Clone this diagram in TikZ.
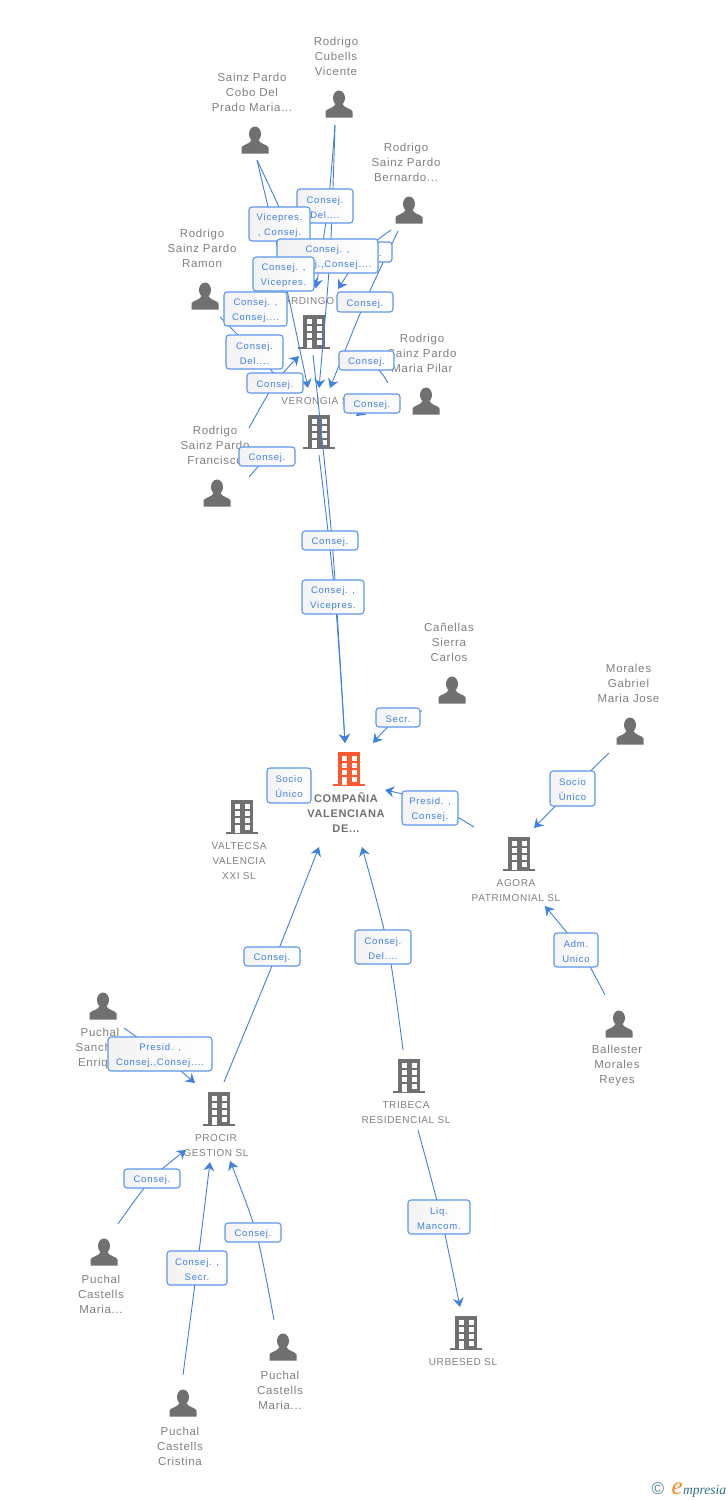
\documentclass[tikz,border=0pt]{standalone}
\usepackage{fontspec}
\setmainfont[LetterSpace=6]{Liberation Sans}
\newfontfamily\lblfont[LetterSpace=8]{Liberation Sans}
\newfontfamily\logofont{Liberation Serif}
\usetikzlibrary{arrows.meta,backgrounds}
\definecolor{icongray}{HTML}{707070}
\definecolor{txtgray}{HTML}{808080}
\definecolor{linkblue}{HTML}{3F80E0}
\definecolor{boxblue}{HTML}{5C97E8}
\definecolor{mainorange}{HTML}{FF5A2C}
\definecolor{logoblue}{HTML}{4A8098}
\definecolor{logoteal}{HTML}{2F6F80}
\definecolor{logoorange}{HTML}{F58A1F}
\pgfdeclarelayer{txt}
\pgfdeclarelayer{conn}
\pgfsetlayers{txt,conn,main}
\tikzset{
  personicon/.pic={
    \fill[icongray] (0,-6) ellipse (6 and 7.5);
    \fill[icongray] (-13.5,13.5) -- (-13.5,7.5) .. controls (-13,4.5) and (-5,4.5) .. (-3.5,0) -- (3.5,0) .. controls (5,4.5) and (13,4.5) .. (13.5,7.5) -- (13.5,13.5) -- cycle;
  },
  buildingicon/.pic={
    \fill[pic actions] (-11,-17) rectangle (11,15);
    \fill[pic actions] (-16,15) rectangle (16,17);
    \foreach \r in {-13,-6,1}{
      \fill[white] (-7.5,\r) rectangle (-2.5,{\r+4.5});
      \fill[white] (2.5,\r) rectangle (7.5,{\r+4.5});
    }
    \fill[white] (-7.5,8) rectangle (-2.5,16);
    \fill[white] (2.5,8) rectangle (7.5,12.5);
  },
  ent/.style={text=txtgray,align=center,inner sep=0pt,font=\fontsize{11.5}{15}\selectfont},
  entco/.style={ent,font=\fontsize{10}{15}\selectfont},
  entmain/.style={ent,text=icongray,font=\fontsize{11}{15}\selectfont\bfseries},
  conn/.style={draw=linkblue,line width=0.9pt},
  tipped/.style={conn,-{Stealth[length=9pt,width=11pt,inset=3pt]}},
  lblbox/.style={draw=boxblue,line width=1.1pt,rounded corners=3pt,left color=black!5,right color=white,
    text=linkblue,align=center,inner sep=0pt,font=\fontsize{9.5}{15}\selectfont\lblfont}
}
\newcommand{\lbl}[6]{%
  \pgfmathsetmacro{\cxx}{(#2+#4)/2}\pgfmathsetmacro{\cyy}{(#3+#5)/2}%
  \pgfmathsetmacro{\www}{#4-#2}\pgfmathsetmacro{\hhh}{#5-#3}%
  \node[lblbox,minimum width=\www pt,minimum height=\hhh pt] (#1) at (\cxx,\cyy) {\rule{0pt}{10pt}#6};}
\newcommand{\tipline}[3]{\draw[tipped] plot[smooth] coordinates {(#1) (#2) (#3)};}
\begin{document}
\begin{tikzpicture}[x=1pt,y=-1pt]
\useasboundingbox (0,0) rectangle (728,1500);
\begin{pgfonlayer}{txt}
\fill[white] (0,0) rectangle (728,1500);
\pic (pCubells) at (339,104) {personicon};
\node[ent] (tCubells) at (336,56) {Rodrigo\\Cubells\\Vicente};
\pic (pSainz) at (255,140) {personicon};
\node[ent] (tSainz) at (252,92) {Sainz Pardo\\Cobo Del\\Prado Maria...};
\pic (pBernardo) at (409,210) {personicon};
\node[ent] (tBernardo) at (406,162) {Rodrigo\\Sainz Pardo\\Bernardo...};
\pic (pRamon) at (205,296) {personicon};
\node[ent] (tRamon) at (202,248) {Rodrigo\\Sainz Pardo\\Ramon};
\pic (pPilar) at (426,401) {personicon};
\node[ent] (tPilar) at (422,353) {Rodrigo\\Sainz Pardo\\Maria Pilar};
\pic (pFrancisco) at (217,493) {personicon};
\node[ent] (tFrancisco) at (215,445) {Rodrigo\\Sainz Pardo\\Francisco};
\pic (pCanellas) at (452,690) {personicon};
\node[ent] (tCanellas) at (449,642) {Cañellas\\Sierra\\Carlos};
\pic (pMorales) at (630,731) {personicon};
\node[ent] (tMorales) at (628.5,683) {Morales\\Gabriel\\Maria Jose};
\pic (pBallester) at (619,1024) {personicon};
\node[ent] (tBallester) at (617,1066) {Ballester\\Morales\\Reyes};
\pic (pEnrique) at (103,1006) {personicon};
\node[ent] (tEnrique) at (100,1049) {Puchal\\Sanchez\\Enrique};
\pic (pCastellsA) at (104,1252) {personicon};
\node[ent] (tCastellsA) at (101,1294) {Puchal\\Castells\\Maria...};
\pic (pCristina) at (183,1403) {personicon};
\node[ent] (tCristina) at (180,1446) {Puchal\\Castells\\Cristina};
\pic (pCastellsB) at (283,1347) {personicon};
\node[ent] (tCastellsB) at (280,1390) {Puchal\\Castells\\Maria...};
\pic[fill=icongray] (bLardingo) at (314,332) {buildingicon};
\node[entco] (tLardingo) at (314,301) {LARDINGO SL};
\pic[fill=icongray] (bVerongia) at (319,432) {buildingicon};
\node[entco] (tVerongia) at (318,401) {VERONGIA SL};
\pic[fill=mainorange] (bMain) at (349,769) {buildingicon};
\node[entmain] (tMain) at (346,813) {COMPAÑIA\\VALENCIANA\\DE...};
\pic[fill=icongray] (bValtecsa) at (242,817) {buildingicon};
\node[entco] (tValtecsa) at (239,861) {VALTECSA\\VALENCIA\\XXI SL};
\pic[fill=icongray] (bAgora) at (519,854) {buildingicon};
\node[entco] (tAgora) at (516,890.5) {AGORA\\PATRIMONIAL SL};
\pic[fill=icongray] (bTribeca) at (409,1076) {buildingicon};
\node[entco] (tTribeca) at (406,1112.5) {TRIBECA\\RESIDENCIAL SL};
\pic[fill=icongray] (bProcir) at (219,1109) {buildingicon};
\node[entco] (tProcir) at (216,1145.5) {PROCIR\\GESTION SL};
\pic[fill=icongray] (bUrbesed) at (466,1333) {buildingicon};
\node[entco] (tUrbesed) at (463,1362) {URBESED SL};
\node[inner sep=0pt,text=logoblue,font=\fontsize{17}{17}\selectfont] (logoC) at (658,1488.5) {©};
\node[inner sep=0pt,anchor=base west,font=\fontsize{25}{25}\selectfont\logofont\itshape,text=logoorange] (logoE) at (671.5,1494) {e};
\node[inner sep=0pt,anchor=base west,font=\fontsize{13.5}{13.5}\selectfont\logofont\itshape,text=logoteal] (logoT) at (683,1494) {mpresia};
\end{pgfonlayer}

% labels, back to front
\lbl{lBernA}{335}{242}{392}{262}{Consej.}
\lbl{lCubA}{297}{189}{353}{223}{Consej.\\Del....}
\lbl{lSainzA}{249}{207}{310}{241}{Vicepres.\\, Consej.}
\lbl{lCubB}{277}{239}{378}{273}{Consej. ,\\Consej.,Consej....}
\lbl{lSainzB}{253}{257}{314}{291}{Consej. ,\\Vicepres.}
\lbl{lRamonA}{224}{292}{287}{326}{Consej. ,\\Consej....}
\lbl{lBernB}{337}{292}{393}{312}{Consej.}
\lbl{lRamonB}{226}{335}{283}{369}{Consej.\\Del....}
\lbl{lFranA}{247}{373}{303}{393}{Consej.}
\lbl{lPilarA}{339}{351}{394}{370}{Consej.}
\lbl{lPilarB}{344}{394}{400}{413}{Consej.}
\lbl{lFranB}{239}{447}{295}{466}{Consej.}
\lbl{lLard}{302}{531}{358}{550}{Consej.}
\lbl{lVero}{302}{580}{364}{614}{Consej. ,\\Vicepres.}
\lbl{lCan}{376}{708}{420}{727}{Secr.}
\lbl{lVal}{267}{768}{311}{803}{Socio\\Único}
\lbl{lAgora}{402}{791}{458}{825}{Presid. ,\\Consej.}
\lbl{lMor}{550}{771}{595}{806}{Socio\\Único}
\lbl{lBal}{554}{933}{598}{967}{Adm.\\Unico}
\lbl{lProcir}{244}{947}{300}{966}{Consej.}
\lbl{lTrib}{355}{930}{411}{964}{Consej.\\Del....}
\lbl{lUrb}{408}{1200}{470}{1234}{Liq.\\Mancom.}
\lbl{lEnr}{108}{1037}{212}{1071}{Presid. ,\\Consej.,Consej....}
\lbl{lCasA}{124}{1169}{180}{1188}{Consej.}
\lbl{lCri}{167}{1251}{227}{1285}{Consej. ,\\Secr.}
\lbl{lCasB}{225}{1223}{281}{1242}{Consej.}

% connector ends
\coordinate (sCub) at (335,125);
\coordinate (sSainz) at (257,160);
\coordinate (sBernA) at (391,230);
\coordinate (sBernB) at (398,231);
\coordinate (sRamon) at (220,317);
\coordinate (sFranA) at (249,428);
\coordinate (sFranB) at (249,477);
\coordinate (sPilarA) at (388,383);
\coordinate (sPilarB) at (372,403);
\coordinate (sLard) at (313,355);
\coordinate (sVero) at (319,455);
\coordinate (sCan) at (422,711);
\coordinate (sAgora) at (474,827);
\coordinate (sMor) at (609,753);
\coordinate (sBal) at (605,995);
\coordinate (sProcir) at (224,1082);
\coordinate (sTrib) at (403,1050);
\coordinate (sTribU) at (418,1130);
\coordinate (sEnr) at (124,1028);
\coordinate (sCasA) at (118,1224);
\coordinate (sCri) at (183,1375);
\coordinate (sCasB) at (274,1320);
\coordinate (tipLardA) at (316,288);
\coordinate (tipLardB) at (338,289);
\coordinate (tipLardC) at (299,356);
\coordinate (tipVerA) at (308,388);
\coordinate (tipVerB) at (319,388);
\coordinate (tipVerC) at (330,388);
\coordinate (tipVerD) at (288,389);
\coordinate (tipVerE) at (356,416);
\coordinate (tipMain) at (345,743);
\coordinate (tipMainB) at (373,743);
\coordinate (tipMainC) at (385,790);
\coordinate (tipMainD) at (319,847);
\coordinate (tipMainE) at (362,847);
\coordinate (tipAgoraA) at (534,828);
\coordinate (tipAgoraB) at (545,906);
\coordinate (tipUrb) at (460,1307);
\coordinate (tipProcA) at (195,1083);
\coordinate (tipProcB) at (186,1150);
\coordinate (tipProcC) at (210,1162);
\coordinate (tipProcD) at (230,1161);
% points the curves pass through, hidden under their labels
\coordinate (wCubA) at (328,206);
\coordinate (wCubB) at (330,256);
\coordinate (wSainzA) at (287,224);
\coordinate (wLard) at (332,540);
\coordinate (wVero) at (335,597);
\coordinate (wAgora) at (430,802);
\coordinate (wBal) at (580,950);
\coordinate (wProcir) at (276,956);
\coordinate (wTrib) at (388,947);
\coordinate (wUrb) at (441,1217);
\coordinate (wCasB) at (256,1232);

\begin{pgfonlayer}{conn}
\tipline{sCub}{wCubA}{tipLardA}
\tipline{sCub}{wCubB}{tipVerB}
\tipline{sSainz}{wSainzA}{tipLardA}
\tipline{sSainz}{lSainzB.center}{tipVerA}
\tipline{sBernA}{lBernA.center}{tipLardB}
\tipline{sBernB}{lBernB.center}{tipVerC}
\tipline{sRamon}{lRamonB.center}{tipVerD}
\tipline{sFranA}{lFranA.center}{tipLardC}
\draw[conn] (sFranB) -- (lFranB.center);
\draw[conn] (sPilarA) to[bend right=15] (lPilarA.center);
\draw[tipped] (sPilarB) -- (tipVerE);
\tipline{sLard}{wLard}{tipMain}
\tipline{sVero}{wVero}{tipMain}
\tipline{sCan}{lCan.center}{tipMainB}
\tipline{sAgora}{wAgora}{tipMainC}
\tipline{sMor}{lMor.center}{tipAgoraA}
\tipline{sBal}{wBal}{tipAgoraB}
\tipline{sProcir}{wProcir}{tipMainD}
\tipline{sTrib}{wTrib}{tipMainE}
\tipline{sTribU}{wUrb}{tipUrb}
\tipline{sEnr}{lEnr.center}{tipProcA}
\tipline{sCasA}{lCasA.center}{tipProcB}
\tipline{sCri}{lCri.center}{tipProcC}
\tipline{sCasB}{wCasB}{tipProcD}
\end{pgfonlayer}
\end{tikzpicture}
\end{document}
